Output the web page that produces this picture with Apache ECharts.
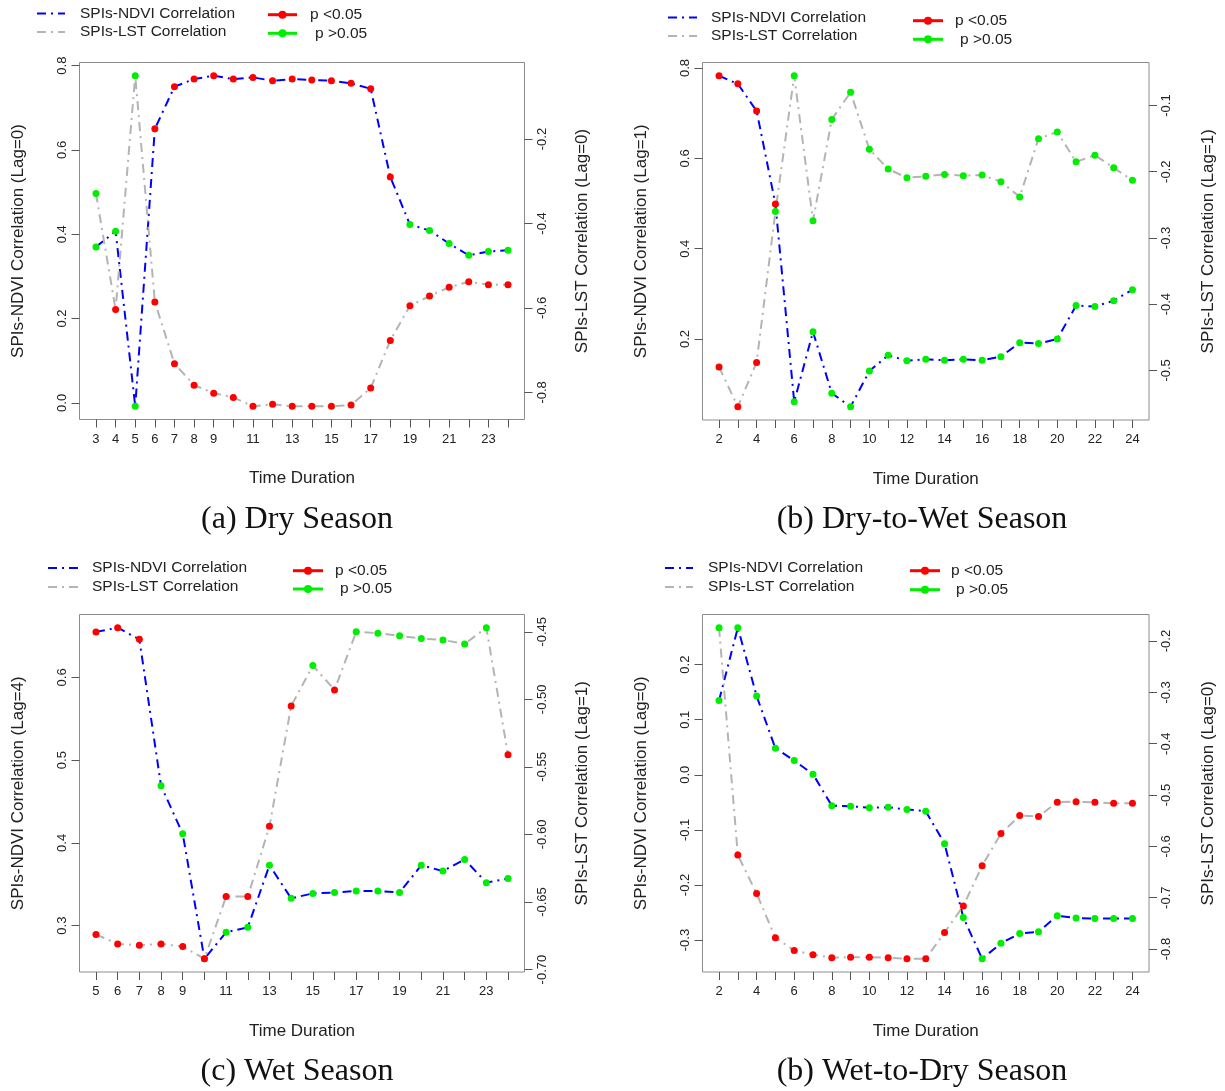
<!DOCTYPE html>
<html><head><meta charset="utf-8">
<script src="https://cdn.jsdelivr.net/npm/echarts@6/dist/echarts.min.js"></script>
<style>html,body{margin:0;padding:0;background:#fff}#c{width:1225px;height:1091px}</style>
</head><body><div id="c"></div>
<script>
// ---------- (a) Dry Season ----------
const dryX = [3,4,5,6,7,8,9,10,11,12,13,14,15,16,17,18,19,20,21,22,23,24];
const dryNDVI = [0.370,0.407,-0.008,0.650,0.750,0.768,0.776,0.768,0.772,0.764,0.768,0.766,0.764,0.758,0.745,0.536,0.423,0.409,0.378,0.350,0.359,0.362];
const dryNDVISig = [0,0,0,1,1,1,1,1,1,1,1,1,1,1,1,1,0,0,0,0,0,0];
const dryLST = [-0.329,-0.604,-0.050,-0.586,-0.732,-0.783,-0.802,-0.812,-0.833,-0.828,-0.833,-0.833,-0.833,-0.830,-0.790,-0.677,-0.595,-0.572,-0.551,-0.538,-0.545,-0.545];
const dryLSTSig = [0,1,0,1,1,1,1,1,1,1,1,1,1,1,1,1,1,1,1,1,1,1];
const dryXLabels = [3,4,5,6,7,8,9,11,13,15,17,19,21,23];
const dryLeftTicks = [0,0.2,0.4,0.6,0.8];
const dryRightTicks = [-0.8,-0.6,-0.4,-0.2];

// ---------- (b) Dry-to-Wet Season ----------
const dtwX = [2,3,4,5,6,7,8,9,10,11,12,13,14,15,16,17,18,19,20,21,22,23,24];
const dtwNDVI = [0.783,0.765,0.705,0.499,0.061,0.216,0.080,0.050,0.129,0.164,0.152,0.155,0.153,0.155,0.153,0.161,0.192,0.190,0.200,0.274,0.272,0.285,0.309];
const dtwNDVISig = [1,1,1,1,0,0,0,0,0,0,0,0,0,0,0,0,0,0,0,0,0,0,0];
const dtwLST = [-0.495,-0.555,-0.488,-0.260,-0.055,-0.274,-0.121,-0.080,-0.166,-0.196,-0.209,-0.207,-0.204,-0.206,-0.205,-0.215,-0.238,-0.150,-0.140,-0.185,-0.175,-0.194,-0.213];
const dtwLSTSig = [1,1,1,0,0,0,0,0,0,0,0,0,0,0,0,0,0,0,0,0,0,0,0];
const dtwXLabels = [2,4,6,8,10,12,14,16,18,20,22,24];
const dtwLeftTicks = [0.2,0.4,0.6,0.8];
const dtwRightTicks = [-0.5,-0.4,-0.3,-0.2,-0.1];

// ---------- (c) Wet Season ----------
const wetX = [5,6,7,8,9,10,11,12,13,14,15,16,17,18,19,20,21,22,23,24];
const wetNDVI = [0.655,0.660,0.646,0.469,0.411,0.260,0.292,0.298,0.373,0.333,0.339,0.340,0.342,0.342,0.340,0.373,0.366,0.380,0.352,0.357];
const wetNDVISig = [1,1,1,0,0,0,0,0,0,0,0,0,0,0,0,0,0,0,0,0];
const wetLST = [-0.674,-0.681,-0.682,-0.681,-0.683,-0.692,-0.646,-0.646,-0.594,-0.505,-0.475,-0.493,-0.450,-0.451,-0.453,-0.455,-0.456,-0.459,-0.447,-0.541];
const wetLSTSig = [1,1,1,1,1,1,1,1,1,1,0,1,0,0,0,0,0,0,0,1];
const wetXLabels = [5,6,7,8,9,11,13,15,17,19,21,23];
const wetLeftTicks = [0.3,0.4,0.5,0.6];
const wetRightTicks = [-0.70,-0.65,-0.60,-0.55,-0.50,-0.45];

// ---------- (d) Wet-to-Dry Season ----------
const wtdX = [2,3,4,5,6,7,8,9,10,11,12,13,14,15,16,17,18,19,20,21,22,23,24];
const wtdNDVI = [0.135,0.267,0.143,0.048,0.026,0.001,-0.056,-0.057,-0.060,-0.059,-0.063,-0.066,-0.125,-0.259,-0.334,-0.306,-0.288,-0.285,-0.256,-0.260,-0.261,-0.261,-0.261];
const wtdNDVISig = [0,0,0,0,0,0,0,0,0,0,0,0,0,0,0,0,0,0,0,0,0,0,0];
const wtdLST = [-0.174,-0.617,-0.692,-0.778,-0.803,-0.811,-0.817,-0.816,-0.816,-0.817,-0.819,-0.819,-0.768,-0.716,-0.638,-0.575,-0.540,-0.542,-0.514,-0.513,-0.514,-0.516,-0.516];
const wtdLSTSig = [0,1,1,1,1,1,1,1,1,1,1,1,1,1,1,1,1,1,1,1,1,1,1];
const wtdXLabels = [2,4,6,8,10,12,14,16,18,20,22,24];
const wtdLeftTicks = [-0.3,-0.2,-0.1,0.0,0.1,0.2];
const wtdRightTicks = [-0.8,-0.7,-0.6,-0.5,-0.4,-0.3,-0.2];

const panels = [
  {x:dryX,n:dryNDVI,ns:dryNDVISig,l:dryLST,ls:dryLSTSig,xl:dryXLabels,lt:dryLeftTicks,rt:dryRightTicks,ld:1,rd:1,
   lag1:'SPIs-NDVI Correlation (Lag=0)',lag2:'SPIs-LST Correlation (Lag=0)',cap:'(a) Dry Season',
   g:{left:79.5,top:62.5,width:445,height:357}, leg:{s1:13.5,s2:32,p1:14.7,p2:33.3,bx1:37,bx2:65,tx:80,px1:268,px2:297,ptx:310},
   ltx:18,rtx:582,capx:297},
  {x:dtwX,n:dtwNDVI,ns:dtwNDVISig,l:dtwLST,ls:dtwLSTSig,xl:dtwXLabels,lt:dtwLeftTicks,rt:dtwRightTicks,ld:1,rd:1,
   lag1:'SPIs-NDVI Correlation (Lag=1)',lag2:'SPIs-LST Correlation (Lag=1)',cap:'(b) Dry-to-Wet Season',
   g:{left:702.5,top:62.5,width:446.5,height:357.5}, leg:{s1:17.5,s2:36,p1:20.7,p2:39.3,bx1:668,bx2:697,tx:711,px1:913,px2:943,ptx:955},
   ltx:641,rtx:1208,capx:922},
  {x:wetX,n:wetNDVI,ns:wetNDVISig,l:wetLST,ls:wetLSTSig,xl:wetXLabels,lt:wetLeftTicks,rt:wetRightTicks,ld:1,rd:2,
   lag1:'SPIs-NDVI Correlation (Lag=4)',lag2:'SPIs-LST Correlation (Lag=1)',cap:'(c) Wet Season',
   g:{left:79.5,top:614.5,width:445,height:357.5}, leg:{s1:568,s2:587,p1:570.7,p2:589,bx1:48,bx2:78,tx:92,px1:293,px2:323,ptx:335},
   ltx:18,rtx:582,capx:297},
  {x:wtdX,n:wtdNDVI,ns:wtdNDVISig,l:wtdLST,ls:wtdLSTSig,xl:wtdXLabels,lt:wtdLeftTicks,rt:wtdRightTicks,ld:1,rd:1,
   lag1:'SPIs-NDVI Correlation (Lag=0)',lag2:'SPIs-LST Correlation (Lag=0)',cap:'(b) Wet-to-Dry Season',
   g:{left:702.5,top:614.5,width:446.5,height:357.5}, leg:{s1:568,s2:587,p1:570.7,p2:589.7,bx1:665,bx2:693,tx:708,px1:910,px2:940,ptx:951},
   ltx:641,rtx:1208,capx:922}
];

const RED='#ff0000', GREEN='#00ee00', BLUE='#0000ff', GRAY='#b4b4b4';
const TXT='#222222', TICK='#555555', BOX='#8c8c8c';
const SANS="'Liberation Sans', Arial, sans-serif";
const DASH=[9,5,2,5];

function rng(arr){ // R default: data range extended by 4%
  const mn=Math.min(...arr), mx=Math.max(...arr), d=(mx-mn)*0.04;
  return [mn-d, mx+d];
}

const grid=[], xAxis=[], yAxis=[], series=[], graphic=[];
panels.forEach((p,i)=>{
  grid.push(Object.assign({show:true,borderColor:BOX,borderWidth:1,backgroundColor:'transparent'},p.g));
  const xr=rng(p.x), nr=rng(p.n), lr=rng(p.l);
  xAxis.push({type:'value',gridIndex:i,position:'bottom',min:xr[0],max:xr[1],
    axisLine:{show:false,onZero:false},splitLine:{show:false},
    axisTick:{show:true,length:8,customValues:p.x,lineStyle:{color:TICK,width:1}},
    axisLabel:{customValues:p.xl,margin:13,fontSize:13,fontFamily:SANS,color:TXT,formatter:v=>String(v)}});
  yAxis.push({type:'value',gridIndex:i,position:'left',min:nr[0],max:nr[1],
    axisLine:{show:false,onZero:false},splitLine:{show:false},
    axisTick:{show:true,length:8,customValues:p.lt,lineStyle:{color:TICK,width:1}},
    axisLabel:{customValues:p.lt,rotate:90,margin:11,fontSize:13,fontFamily:SANS,color:TXT,formatter:v=>v.toFixed(p.ld)}});
  yAxis.push({type:'value',gridIndex:i,position:'right',min:lr[0],max:lr[1],
    axisLine:{show:false,onZero:false},splitLine:{show:false},
    axisTick:{show:true,length:8,customValues:p.rt,lineStyle:{color:TICK,width:1}},
    axisLabel:{customValues:p.rt,rotate:90,margin:11,fontSize:13,fontFamily:SANS,color:TXT,formatter:v=>v.toFixed(p.rd)}});
  const nd=p.x.map((x,k)=>[x,p.n[k]]), ld=p.x.map((x,k)=>[x,p.l[k]]);
  series.push({type:'line',xAxisIndex:i,yAxisIndex:2*i,data:nd,symbol:'none',silent:true,z:2,
    lineStyle:{color:BLUE,width:2,type:DASH}});
  series.push({type:'line',xAxisIndex:i,yAxisIndex:2*i+1,data:ld,symbol:'none',silent:true,z:2,
    lineStyle:{color:GRAY,width:2,type:DASH}});
  series.push({type:'scatter',xAxisIndex:i,yAxisIndex:2*i,symbolSize:7,z:3,silent:true,
    data:p.x.map((x,k)=>({value:[x,p.n[k]],itemStyle:{color:p.ns[k]?RED:GREEN,opacity:1}}))});
  series.push({type:'scatter',xAxisIndex:i,yAxisIndex:2*i+1,symbolSize:7,z:4,silent:true,
    data:p.x.map((x,k)=>({value:[x,p.l[k]],itemStyle:{color:p.ls[k]?RED:GREEN,opacity:1}}))});

  const g=p.g, cy=g.top+g.height/2, cx=g.left+g.width/2;
  graphic.push({type:'text',x:p.ltx,y:cy,rotation:Math.PI/2,style:{text:p.lag1,font:'17px '+SANS,fill:TXT,align:'center',verticalAlign:'middle'}});
  graphic.push({type:'text',x:p.rtx,y:cy,rotation:Math.PI/2,style:{text:p.lag2,font:'17px '+SANS,fill:TXT,align:'center',verticalAlign:'middle'}});
  graphic.push({type:'text',x:cx,y:g.top+g.height+59,style:{text:'Time Duration',font:'17px '+SANS,fill:TXT,align:'center',verticalAlign:'middle'}});
  graphic.push({type:'text',x:p.capx,y:g.top+g.height+100,style:{text:p.cap,font:"32px 'Liberation Serif', 'Times New Roman', serif",fill:'#111',align:'center',verticalAlign:'middle'}});
  const L=p.leg;
  graphic.push({type:'line',shape:{x1:L.bx1,y1:L.s1,x2:L.bx2,y2:L.s1},style:{stroke:BLUE,lineWidth:2,lineDash:DASH}});
  graphic.push({type:'line',shape:{x1:L.bx1,y1:L.s2,x2:L.bx2,y2:L.s2},style:{stroke:GRAY,lineWidth:2,lineDash:DASH}});
  graphic.push({type:'text',x:L.tx,y:L.s1,style:{text:'SPIs-NDVI Correlation',font:'15.5px '+SANS,fill:TXT,align:'left',verticalAlign:'middle'}});
  graphic.push({type:'text',x:L.tx,y:L.s2,style:{text:'SPIs-LST Correlation',font:'15.5px '+SANS,fill:TXT,align:'left',verticalAlign:'middle'}});
  [[L.p1,RED,'p <0.05',0],[L.p2,GREEN,'p >0.05',5]].forEach(([yy,c,t,off])=>{
    graphic.push({type:'line',shape:{x1:L.px1,y1:yy,x2:L.px2,y2:yy},style:{stroke:c,lineWidth:3}});
    graphic.push({type:'circle',shape:{cx:(L.px1+L.px2)/2,cy:yy,r:4},style:{fill:c}});
    graphic.push({type:'text',x:L.ptx+off,y:yy,style:{text:t,font:'15.5px '+SANS,fill:TXT,align:'left',verticalAlign:'middle'}});
  });
});

const chart=echarts.init(document.getElementById('c'),null,{renderer:'canvas'});
chart.setOption({backgroundColor:'#ffffff',animation:false,grid,xAxis,yAxis,series,graphic,tooltip:{show:false}});
</script></body></html>
